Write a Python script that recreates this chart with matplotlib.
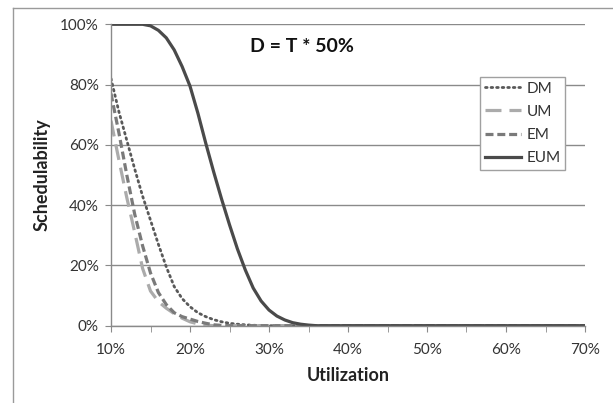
import matplotlib
matplotlib.use("Agg")
import matplotlib.pyplot as plt
from matplotlib.lines import Line2D
from matplotlib.ticker import MultipleLocator, FuncFormatter

plt.rcParams['font.family'] = ['Lato', 'DejaVu Sans']

# Utilization in %, schedulability in %
util = list(range(10, 71))

dm = [82, 71, 61.5, 52, 43, 35, 27, 19.5, 13, 9, 6.3, 4.3, 3, 2, 1.3, 0.8, 0.5, 0.3, 0.15, 0.05,
      0, 0, 0, 0, 0, 0, 0, 0, 0, 0, 0, 0, 0, 0, 0, 0, 0, 0, 0, 0,
      0, 0, 0, 0, 0, 0, 0, 0, 0, 0, 0, 0, 0, 0, 0, 0, 0, 0, 0, 0, 0]
um = [68, 55, 42.5, 31, 19, 11.5, 8, 5.8, 4, 2.5, 1.3, 0.6, 0.2, 0, 0, 0, 0, 0, 0, 0,
      0, 0, 0, 0, 0, 0, 0, 0, 0, 0, 0, 0, 0, 0, 0, 0, 0, 0, 0, 0,
      0, 0, 0, 0, 0, 0, 0, 0, 0, 0, 0, 0, 0, 0, 0, 0, 0, 0, 0, 0, 0]
em = [77, 64, 50, 37, 26.5, 17.5, 11, 7, 4.3, 3, 2.2, 1.4, 0.8, 0.3, 0.1, 0, 0, 0, 0, 0,
      0, 0, 0, 0, 0, 0, 0, 0, 0, 0, 0, 0, 0, 0, 0, 0, 0, 0, 0, 0,
      0, 0, 0, 0, 0, 0, 0, 0, 0, 0, 0, 0, 0, 0, 0, 0, 0, 0, 0, 0, 0]
eum = [100, 100, 100, 100, 100, 99.5, 98, 95.5, 91.5, 86, 79.5, 70.5, 60.5, 51, 42, 33.5, 25.5, 18.5, 12.5, 8.2,
       5.2, 3.2, 1.9, 1, 0.5, 0.2, 0, 0, 0, 0, 0, 0, 0, 0, 0, 0, 0, 0, 0, 0,
       0, 0, 0, 0, 0, 0, 0, 0, 0, 0, 0, 0, 0, 0, 0, 0, 0, 0, 0, 0, 0]

fig = plt.figure(figsize=(6.13, 4.03), dpi=100)
ax = fig.add_axes([111/613, 1 - 325.7/403, 474/613, 301.4/403])

grid_col = '#8a8a8a'
ax.plot(util, dm, color='#595959', lw=2, linestyle=(0, (0.6, 1.4)), dash_capstyle='round', label='DM')
ax.plot(util, um, color='#ababab', lw=2.3, linestyle=(0, (5, 2.5)), label='UM')
ax.plot(util, em, color='#7a7a7a', lw=2.3, linestyle=(0, (2.5, 1.2)), label='EM')
ax.plot(util, eum, color='#4a4a4a', lw=2.3, linestyle='-', label='EUM')

ax.set_xlim(10, 70)
ax.set_ylim(0, 100)
ax.xaxis.set_major_locator(MultipleLocator(10))
ax.xaxis.set_minor_locator(MultipleLocator(5))
ax.yaxis.set_major_locator(MultipleLocator(20))
pct = FuncFormatter(lambda v, p: f"{v:.0f}%")
ax.xaxis.set_major_formatter(pct)
ax.yaxis.set_major_formatter(pct)

ax.grid(True, axis='y', color=grid_col, lw=1)
ax.set_axisbelow(True)
for s in ['top', 'right']:
    ax.spines[s].set_visible(False)
for s in ['left', 'bottom']:
    ax.spines[s].set_color(grid_col)
    ax.spines[s].set_linewidth(1)
ax.tick_params(axis='both', which='both', direction='out', length=4.3, color=grid_col,
               labelsize=11, labelcolor='#333333')
ax.tick_params(axis='x', pad=8)
ax.tick_params(axis='y', pad=4.5)

ax.set_xlabel("Utilization", fontsize=13, fontweight='bold', color='#222222', va='center')
ax.xaxis.set_label_coords(0.5, -0.164)
ax.set_ylabel("Schedulability", fontsize=13, fontweight='bold', color='#222222', va='center')
ax.yaxis.set_label_coords(-0.1445, 0.5)

ax.text(34.2, 92.6, "D = T * 50%", fontsize=14, fontweight='bold', ha='center', va='center',
        color='#111111')

leg = ax.legend(loc='upper left', bbox_to_anchor=((480 - 111) / 474, (325.7 - 77) / 301.4),
                fontsize=11, handlelength=2.4, handletextpad=0.35, labelspacing=0.6,
                borderpad=0.3, borderaxespad=0, fancybox=False, framealpha=1,
                edgecolor='#a0a0a0')
leg.get_frame().set_linewidth(1)
for t in leg.get_texts():
    t.set_color('#333333')

# outer chart border (left and top only, picture is cropped)
fig.add_artist(Line2D([12.5/613, 12.5/613], [0, 1 - 7.5/403], color='#9a9a9a', lw=1))
fig.add_artist(Line2D([12.5/613, 1], [1 - 7.5/403, 1 - 7.5/403], color='#9a9a9a', lw=1))

fig.savefig('out.png', dpi=100)
